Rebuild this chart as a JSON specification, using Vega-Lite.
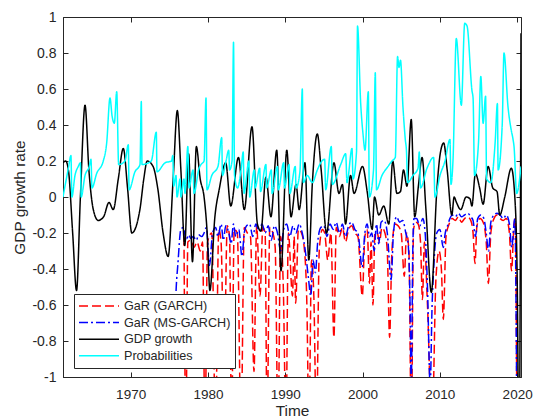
{
  "$schema": "https://vega.github.io/schema/vega-lite/v6.json",
  "autosize": {"type": "none"},
  "padding": {"left": 63, "top": 17, "right": 13, "bottom": 42},
  "width": 458,
  "height": 360,
  "background": "white",
  "config": {
    "view": {"stroke": "#262626", "strokeWidth": 1},
    "axis": {"labelFont": "Liberation Sans", "titleFont": "Liberation Sans", "labelColor": "#262626", "titleColor": "#262626", "tickColor": "#262626", "domainColor": "#262626", "grid": false, "titleFontWeight": "normal", "labelFontSize": 14, "titleFontSize": 15.4, "tickSize": -5},
    "legend": {"orient": "none", "legendX": 11, "legendY": 277, "symbolType": "stroke", "symbolSize": 1600, "symbolStrokeWidth": 1.5, "clipHeight": 16, "rowPadding": 0.6, "padding": 4, "labelOffset": 4, "labelFont": "Liberation Sans", "labelFontSize": 12.6, "labelColor": "#262626", "fillColor": "white", "strokeColor": "#262626", "title": null}
  },
  "data": {"values": [
    {"s":"GaR (GARCH)","t":1976.9,"v":-0.22},{"s":"GaR (GARCH)","t":1977.15,"v":-1.3},{"s":"GaR (GARCH)","t":1977.4,"v":-0.25},{"s":"GaR (GARCH)","t":1977.8,"v":-0.24},{"s":"GaR (GARCH)","t":1978.2,"v":-0.28},{"s":"GaR (GARCH)","t":1978.6,"v":-0.25},{"s":"GaR (GARCH)","t":1979.0,"v":-0.3},{"s":"GaR (GARCH)","t":1979.3,"v":-0.25},{"s":"GaR (GARCH)","t":1979.62,"v":-1.3},{"s":"GaR (GARCH)","t":1979.95,"v":-0.25},{"s":"GaR (GARCH)","t":1980.5,"v":-0.2},{"s":"GaR (GARCH)","t":1980.98,"v":-1.3},{"s":"GaR (GARCH)","t":1981.4,"v":-0.18},{"s":"GaR (GARCH)","t":1981.7,"v":-0.25},{"s":"GaR (GARCH)","t":1982.08,"v":-0.95},{"s":"GaR (GARCH)","t":1982.5,"v":-0.16},{"s":"GaR (GARCH)","t":1982.8,"v":-0.22},{"s":"GaR (GARCH)","t":1983.05,"v":-1.3},{"s":"GaR (GARCH)","t":1983.4,"v":-0.18},{"s":"GaR (GARCH)","t":1983.8,"v":-0.2},{"s":"GaR (GARCH)","t":1984.28,"v":-1.3},{"s":"GaR (GARCH)","t":1984.7,"v":-0.17},{"s":"GaR (GARCH)","t":1985.1,"v":-0.2},{"s":"GaR (GARCH)","t":1985.5,"v":-0.22},{"s":"GaR (GARCH)","t":1985.96,"v":-0.97},{"s":"GaR (GARCH)","t":1986.3,"v":-0.16},{"s":"GaR (GARCH)","t":1986.74,"v":-0.55},{"s":"GaR (GARCH)","t":1987.1,"v":-0.17},{"s":"GaR (GARCH)","t":1987.4,"v":-0.2},{"s":"GaR (GARCH)","t":1987.65,"v":-1.3},{"s":"GaR (GARCH)","t":1988.0,"v":-0.17},{"s":"GaR (GARCH)","t":1988.4,"v":-0.2},{"s":"GaR (GARCH)","t":1988.7,"v":-0.28},{"s":"GaR (GARCH)","t":1989.07,"v":-1.3},{"s":"GaR (GARCH)","t":1989.4,"v":-0.22},{"s":"GaR (GARCH)","t":1989.75,"v":-0.5},{"s":"GaR (GARCH)","t":1990.1,"v":-1.3},{"s":"GaR (GARCH)","t":1990.4,"v":-0.2},{"s":"GaR (GARCH)","t":1990.94,"v":-0.55},{"s":"GaR (GARCH)","t":1991.15,"v":-0.22},{"s":"GaR (GARCH)","t":1991.35,"v":-0.59},{"s":"GaR (GARCH)","t":1991.7,"v":-0.18},{"s":"GaR (GARCH)","t":1992.1,"v":-0.2},{"s":"GaR (GARCH)","t":1992.5,"v":-0.3},{"s":"GaR (GARCH)","t":1992.8,"v":-0.6},{"s":"GaR (GARCH)","t":1993.07,"v":-1.3},{"s":"GaR (GARCH)","t":1993.4,"v":-0.35},{"s":"GaR (GARCH)","t":1993.7,"v":-0.55},{"s":"GaR (GARCH)","t":1994.04,"v":-1.3},{"s":"GaR (GARCH)","t":1994.4,"v":-0.3},{"s":"GaR (GARCH)","t":1994.8,"v":-0.18},{"s":"GaR (GARCH)","t":1995.1,"v":-0.2},{"s":"GaR (GARCH)","t":1995.5,"v":-0.35},{"s":"GaR (GARCH)","t":1995.9,"v":-0.2},{"s":"GaR (GARCH)","t":1996.3,"v":-0.78},{"s":"GaR (GARCH)","t":1996.6,"v":-0.17},{"s":"GaR (GARCH)","t":1997.0,"v":-0.22},{"s":"GaR (GARCH)","t":1997.4,"v":-0.17},{"s":"GaR (GARCH)","t":1997.8,"v":-0.25},{"s":"GaR (GARCH)","t":1998.2,"v":-0.18},{"s":"GaR (GARCH)","t":1998.6,"v":-0.16},{"s":"GaR (GARCH)","t":1999.0,"v":-0.2},{"s":"GaR (GARCH)","t":1999.4,"v":-0.22},{"s":"GaR (GARCH)","t":1999.97,"v":-0.55},{"s":"GaR (GARCH)","t":2000.3,"v":-0.22},{"s":"GaR (GARCH)","t":2000.6,"v":-0.18},{"s":"GaR (GARCH)","t":2000.9,"v":-0.48},{"s":"GaR (GARCH)","t":2001.1,"v":-0.25},{"s":"GaR (GARCH)","t":2001.35,"v":-0.6},{"s":"GaR (GARCH)","t":2001.6,"v":-0.2},{"s":"GaR (GARCH)","t":2001.9,"v":-0.2},{"s":"GaR (GARCH)","t":2002.2,"v":-0.25},{"s":"GaR (GARCH)","t":2002.5,"v":-0.17},{"s":"GaR (GARCH)","t":2002.9,"v":-0.2},{"s":"GaR (GARCH)","t":2003.2,"v":-0.3},{"s":"GaR (GARCH)","t":2003.5,"v":-0.78},{"s":"GaR (GARCH)","t":2003.8,"v":-0.3},{"s":"GaR (GARCH)","t":2004.2,"v":-0.15},{"s":"GaR (GARCH)","t":2004.6,"v":-0.16},{"s":"GaR (GARCH)","t":2005.0,"v":-0.2},{"s":"GaR (GARCH)","t":2005.4,"v":-0.44},{"s":"GaR (GARCH)","t":2005.7,"v":-0.2},{"s":"GaR (GARCH)","t":2006.0,"v":-0.3},{"s":"GaR (GARCH)","t":2006.31,"v":-1.3},{"s":"GaR (GARCH)","t":2006.6,"v":-0.18},{"s":"GaR (GARCH)","t":2006.9,"v":-0.14},{"s":"GaR (GARCH)","t":2007.2,"v":-0.15},{"s":"GaR (GARCH)","t":2007.5,"v":-0.25},{"s":"GaR (GARCH)","t":2007.75,"v":-0.57},{"s":"GaR (GARCH)","t":2008.0,"v":-0.25},{"s":"GaR (GARCH)","t":2008.4,"v":-0.6},{"s":"GaR (GARCH)","t":2008.99,"v":-1.3},{"s":"GaR (GARCH)","t":2009.5,"v":-0.45},{"s":"GaR (GARCH)","t":2009.9,"v":-0.3},{"s":"GaR (GARCH)","t":2010.2,"v":-0.4},{"s":"GaR (GARCH)","t":2010.45,"v":-0.68},{"s":"GaR (GARCH)","t":2010.8,"v":-0.22},{"s":"GaR (GARCH)","t":2011.2,"v":-0.15},{"s":"GaR (GARCH)","t":2011.6,"v":-0.12},{"s":"GaR (GARCH)","t":2012.0,"v":-0.13},{"s":"GaR (GARCH)","t":2012.4,"v":-0.11},{"s":"GaR (GARCH)","t":2012.8,"v":-0.14},{"s":"GaR (GARCH)","t":2013.2,"v":-0.12},{"s":"GaR (GARCH)","t":2013.6,"v":-0.11},{"s":"GaR (GARCH)","t":2014.0,"v":-0.13},{"s":"GaR (GARCH)","t":2014.3,"v":-0.2},{"s":"GaR (GARCH)","t":2014.55,"v":-0.37},{"s":"GaR (GARCH)","t":2014.8,"v":-0.16},{"s":"GaR (GARCH)","t":2015.2,"v":-0.12},{"s":"GaR (GARCH)","t":2015.6,"v":-0.14},{"s":"GaR (GARCH)","t":2016.0,"v":-0.25},{"s":"GaR (GARCH)","t":2016.28,"v":-0.48},{"s":"GaR (GARCH)","t":2016.6,"v":-0.2},{"s":"GaR (GARCH)","t":2017.0,"v":-0.12},{"s":"GaR (GARCH)","t":2017.4,"v":-0.1},{"s":"GaR (GARCH)","t":2017.8,"v":-0.12},{"s":"GaR (GARCH)","t":2018.2,"v":-0.13},{"s":"GaR (GARCH)","t":2018.6,"v":-0.12},{"s":"GaR (GARCH)","t":2019.0,"v":-0.2},{"s":"GaR (GARCH)","t":2019.27,"v":-0.41},{"s":"GaR (GARCH)","t":2019.6,"v":-0.15},{"s":"GaR (GARCH)","t":2019.75,"v":-0.12},{"s":"GaR (GARCH)","t":2020.0,"v":-1.5},
    {"s":"GaR (MS-GARCH)","t":1975.6,"v":-0.9},{"s":"GaR (MS-GARCH)","t":1975.9,"v":-0.5},{"s":"GaR (MS-GARCH)","t":1976.1,"v":-0.38},{"s":"GaR (MS-GARCH)","t":1976.5,"v":-0.18},{"s":"GaR (MS-GARCH)","t":1976.8,"v":-0.17},{"s":"GaR (MS-GARCH)","t":1977.2,"v":-0.24},{"s":"GaR (MS-GARCH)","t":1977.5,"v":-0.21},{"s":"GaR (MS-GARCH)","t":1977.8,"v":-0.23},{"s":"GaR (MS-GARCH)","t":1978.1,"v":-0.22},{"s":"GaR (MS-GARCH)","t":1978.5,"v":-0.24},{"s":"GaR (MS-GARCH)","t":1978.8,"v":-0.21},{"s":"GaR (MS-GARCH)","t":1979.2,"v":-0.22},{"s":"GaR (MS-GARCH)","t":1979.5,"v":-0.2},{"s":"GaR (MS-GARCH)","t":1979.8,"v":-0.17},{"s":"GaR (MS-GARCH)","t":1980.2,"v":-0.38},{"s":"GaR (MS-GARCH)","t":1980.6,"v":-0.2},{"s":"GaR (MS-GARCH)","t":1981.0,"v":-0.17},{"s":"GaR (MS-GARCH)","t":1981.3,"v":-0.22},{"s":"GaR (MS-GARCH)","t":1981.7,"v":-0.15},{"s":"GaR (MS-GARCH)","t":1982.0,"v":-0.24},{"s":"GaR (MS-GARCH)","t":1982.3,"v":-0.16},{"s":"GaR (MS-GARCH)","t":1982.7,"v":-0.2},{"s":"GaR (MS-GARCH)","t":1983.0,"v":-0.26},{"s":"GaR (MS-GARCH)","t":1983.3,"v":-0.15},{"s":"GaR (MS-GARCH)","t":1983.6,"v":-0.22},{"s":"GaR (MS-GARCH)","t":1984.0,"v":-0.18},{"s":"GaR (MS-GARCH)","t":1984.4,"v":-0.33},{"s":"GaR (MS-GARCH)","t":1984.7,"v":-0.2},{"s":"GaR (MS-GARCH)","t":1985.0,"v":-0.16},{"s":"GaR (MS-GARCH)","t":1985.4,"v":-0.15},{"s":"GaR (MS-GARCH)","t":1985.8,"v":-0.22},{"s":"GaR (MS-GARCH)","t":1986.2,"v":-0.15},{"s":"GaR (MS-GARCH)","t":1986.6,"v":-0.19},{"s":"GaR (MS-GARCH)","t":1987.0,"v":-0.15},{"s":"GaR (MS-GARCH)","t":1987.4,"v":-0.2},{"s":"GaR (MS-GARCH)","t":1987.8,"v":-0.16},{"s":"GaR (MS-GARCH)","t":1988.2,"v":-0.24},{"s":"GaR (MS-GARCH)","t":1988.6,"v":-0.16},{"s":"GaR (MS-GARCH)","t":1989.0,"v":-0.2},{"s":"GaR (MS-GARCH)","t":1989.4,"v":-0.3},{"s":"GaR (MS-GARCH)","t":1989.8,"v":-0.18},{"s":"GaR (MS-GARCH)","t":1990.2,"v":-0.15},{"s":"GaR (MS-GARCH)","t":1990.6,"v":-0.22},{"s":"GaR (MS-GARCH)","t":1991.0,"v":-0.16},{"s":"GaR (MS-GARCH)","t":1991.4,"v":-0.2},{"s":"GaR (MS-GARCH)","t":1991.8,"v":-0.15},{"s":"GaR (MS-GARCH)","t":1992.2,"v":-0.2},{"s":"GaR (MS-GARCH)","t":1992.6,"v":-0.3},{"s":"GaR (MS-GARCH)","t":1993.0,"v":-0.45},{"s":"GaR (MS-GARCH)","t":1993.3,"v":-0.55},{"s":"GaR (MS-GARCH)","t":1993.6,"v":-0.35},{"s":"GaR (MS-GARCH)","t":1993.9,"v":-0.42},{"s":"GaR (MS-GARCH)","t":1994.2,"v":-0.25},{"s":"GaR (MS-GARCH)","t":1994.6,"v":-0.17},{"s":"GaR (MS-GARCH)","t":1995.0,"v":-0.16},{"s":"GaR (MS-GARCH)","t":1995.4,"v":-0.22},{"s":"GaR (MS-GARCH)","t":1995.8,"v":-0.15},{"s":"GaR (MS-GARCH)","t":1996.2,"v":-0.18},{"s":"GaR (MS-GARCH)","t":1996.6,"v":-0.14},{"s":"GaR (MS-GARCH)","t":1997.0,"v":-0.2},{"s":"GaR (MS-GARCH)","t":1997.4,"v":-0.15},{"s":"GaR (MS-GARCH)","t":1997.8,"v":-0.22},{"s":"GaR (MS-GARCH)","t":1998.2,"v":-0.16},{"s":"GaR (MS-GARCH)","t":1998.6,"v":-0.14},{"s":"GaR (MS-GARCH)","t":1999.0,"v":-0.18},{"s":"GaR (MS-GARCH)","t":1999.4,"v":-0.2},{"s":"GaR (MS-GARCH)","t":1999.95,"v":-0.39},{"s":"GaR (MS-GARCH)","t":2000.3,"v":-0.2},{"s":"GaR (MS-GARCH)","t":2000.6,"v":-0.15},{"s":"GaR (MS-GARCH)","t":2000.9,"v":-0.22},{"s":"GaR (MS-GARCH)","t":2001.2,"v":-0.2},{"s":"GaR (MS-GARCH)","t":2001.5,"v":-0.3},{"s":"GaR (MS-GARCH)","t":2001.8,"v":-0.15},{"s":"GaR (MS-GARCH)","t":2002.1,"v":-0.26},{"s":"GaR (MS-GARCH)","t":2002.4,"v":-0.14},{"s":"GaR (MS-GARCH)","t":2002.8,"v":-0.13},{"s":"GaR (MS-GARCH)","t":2003.2,"v":-0.2},{"s":"GaR (MS-GARCH)","t":2003.7,"v":-0.46},{"s":"GaR (MS-GARCH)","t":2004.0,"v":-0.2},{"s":"GaR (MS-GARCH)","t":2004.4,"v":-0.11},{"s":"GaR (MS-GARCH)","t":2004.8,"v":-0.14},{"s":"GaR (MS-GARCH)","t":2005.2,"v":-0.13},{"s":"GaR (MS-GARCH)","t":2005.6,"v":-0.2},{"s":"GaR (MS-GARCH)","t":2005.9,"v":-0.26},{"s":"GaR (MS-GARCH)","t":2006.15,"v":-0.6},{"s":"GaR (MS-GARCH)","t":2006.3,"v":-1.05},{"s":"GaR (MS-GARCH)","t":2006.5,"v":-0.3},{"s":"GaR (MS-GARCH)","t":2006.65,"v":-0.12},{"s":"GaR (MS-GARCH)","t":2007.0,"v":-0.12},{"s":"GaR (MS-GARCH)","t":2007.4,"v":-0.16},{"s":"GaR (MS-GARCH)","t":2007.8,"v":-0.12},{"s":"GaR (MS-GARCH)","t":2008.1,"v":-0.2},{"s":"GaR (MS-GARCH)","t":2008.4,"v":-0.5},{"s":"GaR (MS-GARCH)","t":2008.75,"v":-1.05},{"s":"GaR (MS-GARCH)","t":2009.0,"v":-0.6},{"s":"GaR (MS-GARCH)","t":2009.2,"v":-0.4},{"s":"GaR (MS-GARCH)","t":2009.6,"v":-0.2},{"s":"GaR (MS-GARCH)","t":2010.0,"v":-0.18},{"s":"GaR (MS-GARCH)","t":2010.45,"v":-0.28},{"s":"GaR (MS-GARCH)","t":2010.7,"v":-0.2},{"s":"GaR (MS-GARCH)","t":2011.0,"v":-0.16},{"s":"GaR (MS-GARCH)","t":2011.3,"v":-0.12},{"s":"GaR (MS-GARCH)","t":2011.6,"v":-0.1},{"s":"GaR (MS-GARCH)","t":2012.0,"v":-0.11},{"s":"GaR (MS-GARCH)","t":2012.4,"v":-0.09},{"s":"GaR (MS-GARCH)","t":2012.8,"v":-0.11},{"s":"GaR (MS-GARCH)","t":2013.2,"v":-0.1},{"s":"GaR (MS-GARCH)","t":2013.6,"v":-0.09},{"s":"GaR (MS-GARCH)","t":2014.0,"v":-0.11},{"s":"GaR (MS-GARCH)","t":2014.3,"v":-0.13},{"s":"GaR (MS-GARCH)","t":2014.6,"v":-0.22},{"s":"GaR (MS-GARCH)","t":2014.9,"v":-0.12},{"s":"GaR (MS-GARCH)","t":2015.3,"v":-0.1},{"s":"GaR (MS-GARCH)","t":2015.7,"v":-0.12},{"s":"GaR (MS-GARCH)","t":2016.0,"v":-0.2},{"s":"GaR (MS-GARCH)","t":2016.3,"v":-0.3},{"s":"GaR (MS-GARCH)","t":2016.6,"v":-0.14},{"s":"GaR (MS-GARCH)","t":2017.0,"v":-0.1},{"s":"GaR (MS-GARCH)","t":2017.4,"v":-0.09},{"s":"GaR (MS-GARCH)","t":2017.8,"v":-0.1},{"s":"GaR (MS-GARCH)","t":2018.2,"v":-0.12},{"s":"GaR (MS-GARCH)","t":2018.6,"v":-0.1},{"s":"GaR (MS-GARCH)","t":2019.0,"v":-0.15},{"s":"GaR (MS-GARCH)","t":2019.3,"v":-0.28},{"s":"GaR (MS-GARCH)","t":2019.7,"v":-0.12},{"s":"GaR (MS-GARCH)","t":2020.0,"v":-1.5},
    {"s":"GDP growth","t":1961.25,"v":0.19},{"s":"GDP growth","t":1961.6,"v":0.2},{"s":"GDP growth","t":1961.95,"v":0.15},{"s":"GDP growth","t":1962.5,"v":-0.2},{"s":"GDP growth","t":1963.0,"v":-0.52},{"s":"GDP growth","t":1963.5,"v":0.0},{"s":"GDP growth","t":1964.1,"v":0.51},{"s":"GDP growth","t":1964.6,"v":0.15},{"s":"GDP growth","t":1965.17,"v":-0.07},{"s":"GDP growth","t":1965.8,"v":-0.13},{"s":"GDP growth","t":1966.5,"v":-0.11},{"s":"GDP growth","t":1967.2,"v":-0.03},{"s":"GDP growth","t":1967.75,"v":-0.07},{"s":"GDP growth","t":1968.4,"v":0.1},{"s":"GDP growth","t":1969.05,"v":0.27},{"s":"GDP growth","t":1969.6,"v":0.05},{"s":"GDP growth","t":1970.15,"v":-0.2},{"s":"GDP growth","t":1971.2,"v":-0.07},{"s":"GDP growth","t":1971.7,"v":0.1},{"s":"GDP growth","t":1972.15,"v":0.2},{"s":"GDP growth","t":1972.9,"v":0.17},{"s":"GDP growth","t":1973.5,"v":0.05},{"s":"GDP growth","t":1974.2,"v":-0.2},{"s":"GDP growth","t":1974.85,"v":-0.33},{"s":"GDP growth","t":1975.5,"v":0.1},{"s":"GDP growth","t":1976.04,"v":0.48},{"s":"GDP growth","t":1976.5,"v":0.15},{"s":"GDP growth","t":1977.0,"v":-0.27},{"s":"GDP growth","t":1977.5,"v":0.24},{"s":"GDP growth","t":1978.0,"v":-0.36},{"s":"GDP growth","t":1978.5,"v":0.28},{"s":"GDP growth","t":1979.0,"v":0.1},{"s":"GDP growth","t":1979.5,"v":0.0},{"s":"GDP growth","t":1979.9,"v":-0.2},{"s":"GDP growth","t":1980.25,"v":-0.52},{"s":"GDP growth","t":1980.9,"v":-0.11},{"s":"GDP growth","t":1981.45,"v":0.04},{"s":"GDP growth","t":1982.3,"v":0.19},{"s":"GDP growth","t":1982.95,"v":-0.05},{"s":"GDP growth","t":1983.95,"v":0.22},{"s":"GDP growth","t":1984.7,"v":-0.07},{"s":"GDP growth","t":1985.7,"v":0.39},{"s":"GDP growth","t":1986.4,"v":-0.15},{"s":"GDP growth","t":1986.85,"v":-0.19},{"s":"GDP growth","t":1987.5,"v":0.11},{"s":"GDP growth","t":1988.15,"v":-0.11},{"s":"GDP growth","t":1988.9,"v":0.26},{"s":"GDP growth","t":1989.45,"v":-0.41},{"s":"GDP growth","t":1990.2,"v":0.26},{"s":"GDP growth","t":1990.75,"v":-0.11},{"s":"GDP growth","t":1991.4,"v":0.07},{"s":"GDP growth","t":1991.8,"v":-0.07},{"s":"GDP growth","t":1992.55,"v":0.19},{"s":"GDP growth","t":1993.05,"v":-0.35},{"s":"GDP growth","t":1993.5,"v":0.07},{"s":"GDP growth","t":1994.15,"v":0.35},{"s":"GDP growth","t":1994.65,"v":0.15},{"s":"GDP growth","t":1995.35,"v":-0.2},{"s":"GDP growth","t":1996.3,"v":0.19},{"s":"GDP growth","t":1996.95,"v":0.02},{"s":"GDP growth","t":1997.4,"v":0.07},{"s":"GDP growth","t":1997.8,"v":-0.15},{"s":"GDP growth","t":1998.45,"v":0.12},{"s":"GDP growth","t":1998.9,"v":0.02},{"s":"GDP growth","t":2000.0,"v":0.17},{"s":"GDP growth","t":2000.6,"v":0.03},{"s":"GDP growth","t":2001.25,"v":-0.18},{"s":"GDP growth","t":2001.55,"v":0.0},{"s":"GDP growth","t":2002.1,"v":-0.1},{"s":"GDP growth","t":2002.75,"v":-0.05},{"s":"GDP growth","t":2003.4,"v":-0.15},{"s":"GDP growth","t":2003.9,"v":0.2},{"s":"GDP growth","t":2004.45,"v":0.02},{"s":"GDP growth","t":2004.9,"v":0.03},{"s":"GDP growth","t":2005.3,"v":0.15},{"s":"GDP growth","t":2005.75,"v":0.06},{"s":"GDP growth","t":2006.3,"v":0.43},{"s":"GDP growth","t":2006.75,"v":-0.11},{"s":"GDP growth","t":2007.25,"v":0.07},{"s":"GDP growth","t":2007.7,"v":0.22},{"s":"GDP growth","t":2008.2,"v":-0.07},{"s":"GDP growth","t":2008.9,"v":-0.53},{"s":"GDP growth","t":2009.6,"v":0.03},{"s":"GDP growth","t":2010.05,"v":0.24},{"s":"GDP growth","t":2010.5,"v":0.3},{"s":"GDP growth","t":2010.95,"v":0.15},{"s":"GDP growth","t":2011.55,"v":-0.1},{"s":"GDP growth","t":2011.85,"v":0.0},{"s":"GDP growth","t":2012.15,"v":-0.03},{"s":"GDP growth","t":2012.7,"v":-0.07},{"s":"GDP growth","t":2013.4,"v":0.0},{"s":"GDP growth","t":2013.9,"v":-0.01},{"s":"GDP growth","t":2014.15,"v":-0.05},{"s":"GDP growth","t":2014.6,"v":0.13},{"s":"GDP growth","t":2015.15,"v":0.05},{"s":"GDP growth","t":2015.6,"v":-0.04},{"s":"GDP growth","t":2016.25,"v":0.17},{"s":"GDP growth","t":2016.85,"v":0.05},{"s":"GDP growth","t":2017.4,"v":0.03},{"s":"GDP growth","t":2017.75,"v":-0.1},{"s":"GDP growth","t":2018.4,"v":0.0},{"s":"GDP growth","t":2019.25,"v":0.16},{"s":"GDP growth","t":2019.7,"v":0.0},{"s":"GDP growth","t":2020.0,"v":-0.43},{"s":"GDP growth","t":2020.25,"v":-1.5},{"s":"GDP growth","t":2020.5,"v":0.91},
    {"s":"Probabilities","t":1961.25,"v":0.0},{"s":"Probabilities","t":1961.95,"v":0.16},{"s":"Probabilities","t":1962.28,"v":0.23},{"s":"Probabilities","t":1962.4,"v":0.0},{"s":"Probabilities","t":1962.8,"v":0.12},{"s":"Probabilities","t":1963.23,"v":0.17},{"s":"Probabilities","t":1963.5,"v":0.19},{"s":"Probabilities","t":1963.6,"v":0.0},{"s":"Probabilities","t":1964.1,"v":0.12},{"s":"Probabilities","t":1964.65,"v":0.17},{"s":"Probabilities","t":1964.87,"v":0.21},{"s":"Probabilities","t":1965.0,"v":0.05},{"s":"Probabilities","t":1965.6,"v":0.13},{"s":"Probabilities","t":1966.46,"v":0.2},{"s":"Probabilities","t":1966.9,"v":0.3},{"s":"Probabilities","t":1967.33,"v":0.55},{"s":"Probabilities","t":1967.6,"v":0.45},{"s":"Probabilities","t":1967.89,"v":0.41},{"s":"Probabilities","t":1968.2,"v":0.585},{"s":"Probabilities","t":1968.45,"v":0.18},{"s":"Probabilities","t":1969.27,"v":0.2},{"s":"Probabilities","t":1969.7,"v":0.29},{"s":"Probabilities","t":1969.8,"v":0.04},{"s":"Probabilities","t":1970.56,"v":0.14},{"s":"Probabilities","t":1971.21,"v":0.18},{"s":"Probabilities","t":1971.38,"v":0.53},{"s":"Probabilities","t":1971.47,"v":0.18},{"s":"Probabilities","t":1972.67,"v":0.2},{"s":"Probabilities","t":1973.32,"v":0.36},{"s":"Probabilities","t":1973.41,"v":0.14},{"s":"Probabilities","t":1974.45,"v":0.19},{"s":"Probabilities","t":1975.3,"v":0.2},{"s":"Probabilities","t":1975.45,"v":0.23},{"s":"Probabilities","t":1975.57,"v":0.06},{"s":"Probabilities","t":1975.87,"v":0.12},{"s":"Probabilities","t":1976.0,"v":0.0},{"s":"Probabilities","t":1976.4,"v":0.1},{"s":"Probabilities","t":1976.5,"v":0.0},{"s":"Probabilities","t":1976.9,"v":0.1},{"s":"Probabilities","t":1977.03,"v":0.02},{"s":"Probabilities","t":1977.4,"v":0.28},{"s":"Probabilities","t":1977.55,"v":0.05},{"s":"Probabilities","t":1978.07,"v":0.15},{"s":"Probabilities","t":1978.2,"v":0.02},{"s":"Probabilities","t":1978.85,"v":0.16},{"s":"Probabilities","t":1979.1,"v":0.18},{"s":"Probabilities","t":1979.5,"v":0.2},{"s":"Probabilities","t":1979.75,"v":0.55},{"s":"Probabilities","t":1979.88,"v":0.04},{"s":"Probabilities","t":1980.5,"v":0.12},{"s":"Probabilities","t":1981.3,"v":0.17},{"s":"Probabilities","t":1981.78,"v":0.33},{"s":"Probabilities","t":1981.88,"v":0.12},{"s":"Probabilities","t":1982.34,"v":0.2},{"s":"Probabilities","t":1982.69,"v":0.26},{"s":"Probabilities","t":1982.8,"v":0.15},{"s":"Probabilities","t":1983.12,"v":0.2},{"s":"Probabilities","t":1983.31,"v":0.86},{"s":"Probabilities","t":1983.44,"v":0.12},{"s":"Probabilities","t":1983.83,"v":0.05},{"s":"Probabilities","t":1984.28,"v":0.15},{"s":"Probabilities","t":1984.57,"v":0.25},{"s":"Probabilities","t":1984.67,"v":0.02},{"s":"Probabilities","t":1985.3,"v":0.2},{"s":"Probabilities","t":1985.4,"v":0.0},{"s":"Probabilities","t":1986.0,"v":0.15},{"s":"Probabilities","t":1986.1,"v":0.05},{"s":"Probabilities","t":1986.7,"v":0.16},{"s":"Probabilities","t":1986.8,"v":0.03},{"s":"Probabilities","t":1987.5,"v":0.18},{"s":"Probabilities","t":1987.6,"v":0.05},{"s":"Probabilities","t":1988.2,"v":0.15},{"s":"Probabilities","t":1988.3,"v":0.02},{"s":"Probabilities","t":1989.0,"v":0.17},{"s":"Probabilities","t":1989.1,"v":0.04},{"s":"Probabilities","t":1989.8,"v":0.19},{"s":"Probabilities","t":1989.9,"v":0.05},{"s":"Probabilities","t":1990.5,"v":0.18},{"s":"Probabilities","t":1990.6,"v":0.02},{"s":"Probabilities","t":1991.3,"v":0.17},{"s":"Probabilities","t":1991.4,"v":0.05},{"s":"Probabilities","t":1991.9,"v":0.14},{"s":"Probabilities","t":1992.21,"v":0.6},{"s":"Probabilities","t":1992.34,"v":0.08},{"s":"Probabilities","t":1992.85,"v":0.12},{"s":"Probabilities","t":1993.5,"v":0.08},{"s":"Probabilities","t":1994.15,"v":0.15},{"s":"Probabilities","t":1994.59,"v":0.19},{"s":"Probabilities","t":1995.1,"v":0.21},{"s":"Probabilities","t":1995.23,"v":0.04},{"s":"Probabilities","t":1995.96,"v":0.28},{"s":"Probabilities","t":1996.09,"v":0.07},{"s":"Probabilities","t":1997.17,"v":0.18},{"s":"Probabilities","t":1997.82,"v":0.24},{"s":"Probabilities","t":1997.99,"v":0.08},{"s":"Probabilities","t":1998.64,"v":0.27},{"s":"Probabilities","t":1998.77,"v":0.1},{"s":"Probabilities","t":1999.22,"v":0.25},{"s":"Probabilities","t":1999.35,"v":0.95},{"s":"Probabilities","t":1999.76,"v":0.52},{"s":"Probabilities","t":2000.06,"v":0.35},{"s":"Probabilities","t":2000.32,"v":0.26},{"s":"Probabilities","t":2000.75,"v":0.585},{"s":"Probabilities","t":2000.88,"v":0.0},{"s":"Probabilities","t":2001.42,"v":0.15},{"s":"Probabilities","t":2001.65,"v":0.69},{"s":"Probabilities","t":2001.81,"v":0.04},{"s":"Probabilities","t":2002.52,"v":0.12},{"s":"Probabilities","t":2003.3,"v":0.17},{"s":"Probabilities","t":2003.81,"v":0.2},{"s":"Probabilities","t":2004.24,"v":0.22},{"s":"Probabilities","t":2004.53,"v":0.78},{"s":"Probabilities","t":2004.72,"v":0.72},{"s":"Probabilities","t":2004.91,"v":0.76},{"s":"Probabilities","t":2005.23,"v":0.5},{"s":"Probabilities","t":2005.53,"v":0.32},{"s":"Probabilities","t":2005.69,"v":0.25},{"s":"Probabilities","t":2005.82,"v":0.08},{"s":"Probabilities","t":2006.53,"v":0.12},{"s":"Probabilities","t":2007.18,"v":0.16},{"s":"Probabilities","t":2007.34,"v":0.25},{"s":"Probabilities","t":2007.5,"v":0.05},{"s":"Probabilities","t":2008.34,"v":0.16},{"s":"Probabilities","t":2009.2,"v":0.22},{"s":"Probabilities","t":2009.37,"v":0.0},{"s":"Probabilities","t":2010.02,"v":0.12},{"s":"Probabilities","t":2010.67,"v":0.2},{"s":"Probabilities","t":2011.31,"v":0.32},{"s":"Probabilities","t":2011.44,"v":0.07},{"s":"Probabilities","t":2011.7,"v":0.2},{"s":"Probabilities","t":2012.13,"v":0.88},{"s":"Probabilities","t":2012.78,"v":0.51},{"s":"Probabilities","t":2013.22,"v":0.965},{"s":"Probabilities","t":2013.52,"v":0.95},{"s":"Probabilities","t":2014.16,"v":0.59},{"s":"Probabilities","t":2014.3,"v":0.55},{"s":"Probabilities","t":2014.49,"v":0.12},{"s":"Probabilities","t":2015.0,"v":0.3},{"s":"Probabilities","t":2015.3,"v":0.67},{"s":"Probabilities","t":2015.6,"v":0.41},{"s":"Probabilities","t":2015.92,"v":0.56},{"s":"Probabilities","t":2016.05,"v":0.1},{"s":"Probabilities","t":2016.6,"v":0.08},{"s":"Probabilities","t":2017.15,"v":0.3},{"s":"Probabilities","t":2017.45,"v":0.52},{"s":"Probabilities","t":2017.54,"v":0.15},{"s":"Probabilities","t":2018.07,"v":0.4},{"s":"Probabilities","t":2018.3,"v":0.8},{"s":"Probabilities","t":2018.82,"v":0.5},{"s":"Probabilities","t":2019.2,"v":0.38},{"s":"Probabilities","t":2019.47,"v":0.32},{"s":"Probabilities","t":2019.6,"v":0.28},{"s":"Probabilities","t":2019.94,"v":0.02},{"s":"Probabilities","t":2020.5,"v":0.17}
  ]},
  "layer": [
    {
      "mark": {"type": "line", "clip": true, "strokeWidth": 1.5, "interpolate": "monotone"},
      "encoding": {
        "x": {"field": "t", "type": "quantitative", "scale": {"domain": [1961.25, 2020.5], "nice": false, "zero": false},
              "axis": {"values": [1970, 1980, 1990, 2000, 2010, 2020], "format": "d", "title": "Time", "labelFontSize": 13.5, "labelPadding": 15, "titlePadding": 3}},
        "y": {"field": "v", "type": "quantitative", "scale": {"domain": [-1, 1], "nice": false, "zero": false},
              "axis": {"values": [-1, -0.8, -0.6, -0.4, -0.2, 0, 0.2, 0.4, 0.6, 0.8, 1], "labelExpr": "replace(format(datum.value, '.1~f'), '\u2212', '-')", "title": "GDP growth rate", "labelPadding": 12, "titlePadding": 4}},
        "color": {"field": "s", "type": "nominal", "scale": {"domain": ["GaR (GARCH)", "GaR (MS-GARCH)", "GDP growth", "Probabilities"], "range": ["#ff0000", "#0000ff", "#000000", "#00ffff"]}, "legend": {"title": null}},
        "strokeDash": {"field": "s", "type": "nominal", "scale": {"domain": ["GaR (GARCH)", "GaR (MS-GARCH)", "GDP growth", "Probabilities"], "range": [[9, 4], [9, 3, 2, 3], [1, 0], [1, 0]]}, "legend": {"title": null}}
      }
    },
    {
      "mark": {"type": "point", "opacity": 0},
      "encoding": {
        "x": {"field": "t", "type": "quantitative", "scale": {"domain": [1961.25, 2020.5], "nice": false, "zero": false},
              "axis": {"orient": "top", "values": [1970, 1980, 1990, 2000, 2010, 2020], "labels": false, "title": null, "domain": false}},
        "y": {"field": "v", "type": "quantitative", "scale": {"domain": [-1, 1], "nice": false, "zero": false},
              "axis": {"orient": "right", "values": [-1, -0.8, -0.6, -0.4, -0.2, 0, 0.2, 0.4, 0.6, 0.8, 1], "labels": false, "title": null, "domain": false}}
      }
    }
  ],
  "resolve": {"axis": {"x": "independent", "y": "independent"}}
}
